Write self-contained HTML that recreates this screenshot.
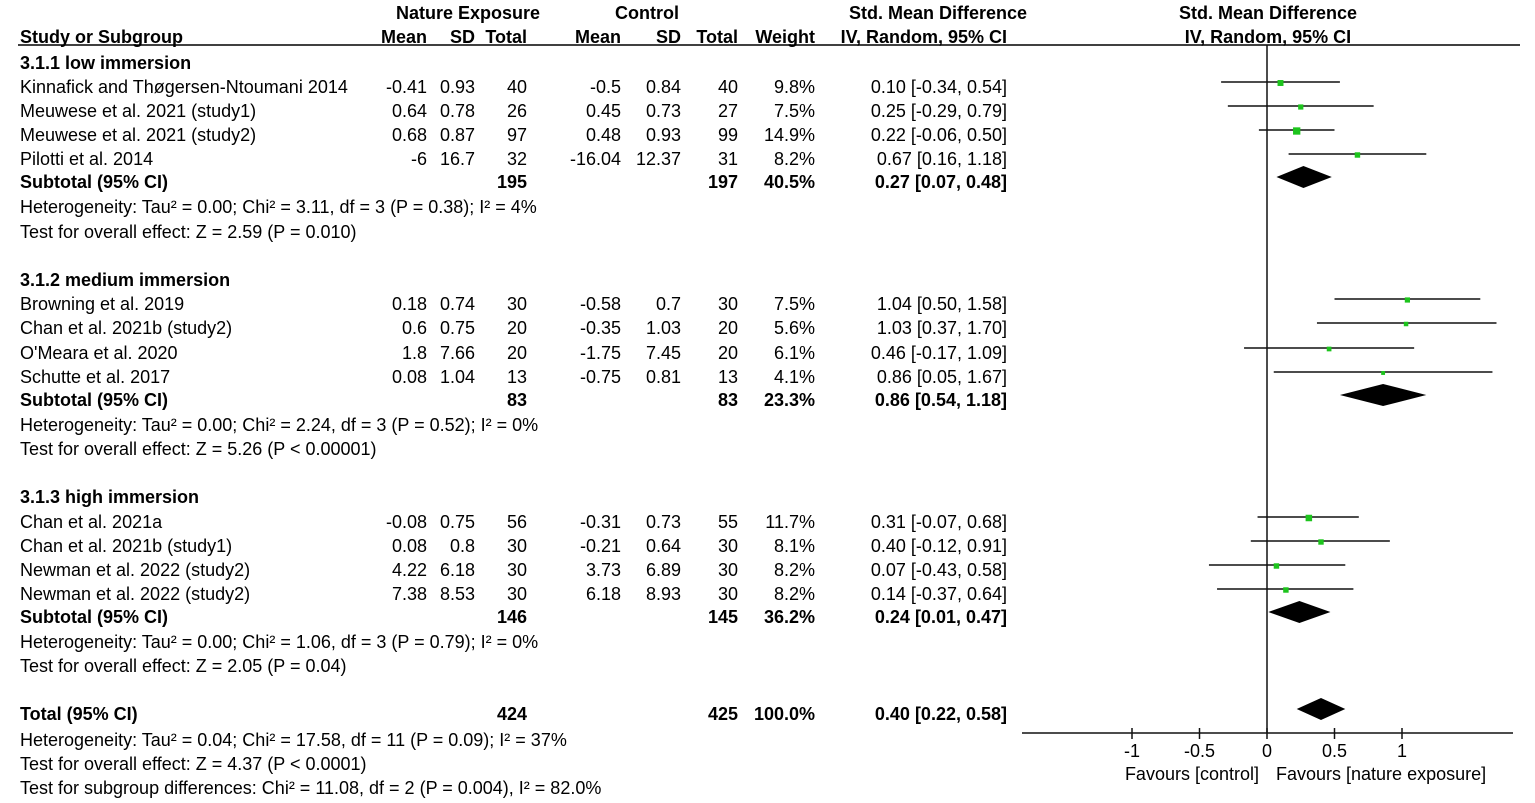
<!DOCTYPE html>
<html><head><meta charset="utf-8"><style>
body{margin:0;background:#fff}
svg{display:block;font-family:"Liberation Sans",Arial,sans-serif;font-size:18px}
.b{font-weight:bold}
</style></head><body>
<svg id="s" width="1535" height="803" viewBox="0 0 1535 803" xmlns="http://www.w3.org/2000/svg">
<g id="hdr" class="b">
<text x="468" y="19" text-anchor="middle">Nature Exposure</text>
<text x="647" y="19" text-anchor="middle">Control</text>
<text x="938" y="19" text-anchor="middle">Std. Mean Difference</text>
<text x="1268" y="19" text-anchor="middle">Std. Mean Difference</text>
<text x="20" y="43">Study or Subgroup</text>
<text x="427" y="43" text-anchor="end">Mean</text>
<text x="475" y="43" text-anchor="end">SD</text>
<text x="527" y="43" text-anchor="end">Total</text>
<text x="621" y="43" text-anchor="end">Mean</text>
<text x="681" y="43" text-anchor="end">SD</text>
<text x="738" y="43" text-anchor="end">Total</text>
<text x="815" y="43" text-anchor="end">Weight</text>
<text x="1007" y="43" text-anchor="end">IV, Random, 95% CI</text>
<text x="1268" y="43" text-anchor="middle">IV, Random, 95% CI</text>
</g>
<line x1="18" y1="45" x2="1520" y2="45" stroke="#000" stroke-width="1.5"/>
<g id="rows"></g>
<g id="plot"></g>
</svg>
<script>
const studyNames=["Kinnafick and Thøgersen-Ntoumani 2014","Meuwese et al. 2021 (study1)","Meuwese et al. 2021 (study2)","Pilotti et al. 2014","Browning et al. 2019","Chan et al. 2021b (study2)","O'Meara et al. 2020","Schutte et al. 2017","Chan et al. 2021a","Chan et al. 2021b (study1)","Newman et al. 2022 (study2)","Newman et al. 2022 (study2)"];
const studyY=[87,111,135,159,304,328,353,377,522,546,570,594];
const nMean=["-0.41","0.64","0.68","-6","0.18","0.6","1.8","0.08","-0.08","0.08","4.22","7.38"];
const nSD=["0.93","0.78","0.87","16.7","0.74","0.75","7.66","1.04","0.75","0.8","6.18","8.53"];
const nTotal=["40","26","97","32","30","20","20","13","56","30","30","30"];
const cMean=["-0.5","0.45","0.48","-16.04","-0.58","-0.35","-1.75","-0.75","-0.31","-0.21","3.73","6.18"];
const cSD=["0.84","0.73","0.93","12.37","0.7","1.03","7.45","0.81","0.73","0.64","6.89","8.93"];
const cTotal=["40","27","99","31","30","20","20","13","55","30","30","30"];
const weights=[9.8,7.5,14.9,8.2,7.5,5.6,6.1,4.1,11.7,8.1,8.2,8.2];
const smd=[0.10,0.25,0.22,0.67,1.04,1.03,0.46,0.86,0.31,0.40,0.07,0.14];
const lo=[-0.34,-0.29,-0.06,0.16,0.50,0.37,-0.17,0.05,-0.07,-0.12,-0.43,-0.37];
const hi=[0.54,0.79,0.50,1.18,1.58,1.70,1.09,1.67,0.68,0.91,0.58,0.64];
const subNames=["Subtotal (95% CI)","Subtotal (95% CI)","Subtotal (95% CI)","Total (95% CI)"];
const subY=[182,400,617,714];
const subNT=["195","83","146","424"];
const subCT=["197","83","145","425"];
const subW=["40.5%","23.3%","36.2%","100.0%"];
const subEst=[0.27,0.86,0.24,0.40];
const subLo=[0.07,0.54,0.01,0.22];
const subHi=[0.48,1.18,0.47,0.58];
const groupHeads=["3.1.1 low immersion","3.1.2 medium immersion","3.1.3 high immersion"];
const groupY=[63,280,497];
const notes=["Heterogeneity: Tau² = 0.00; Chi² = 3.11, df = 3 (P = 0.38); I² = 4%","Test for overall effect: Z = 2.59 (P = 0.010)","Heterogeneity: Tau² = 0.00; Chi² = 2.24, df = 3 (P = 0.52); I² = 0%","Test for overall effect: Z = 5.26 (P < 0.00001)","Heterogeneity: Tau² = 0.00; Chi² = 1.06, df = 3 (P = 0.79); I² = 0%","Test for overall effect: Z = 2.05 (P = 0.04)","Heterogeneity: Tau² = 0.04; Chi² = 17.58, df = 11 (P = 0.09); I² = 37%","Test for overall effect: Z = 4.37 (P < 0.0001)","Test for subgroup differences: Chi² = 11.08, df = 2 (P = 0.004), I² = 82.0%"];
const noteY=[207,232,425,449,642,666,740,764,788];
const ticks=[-1,-0.5,0,0.5,1];
const tickLabels=["-1","-0.5","0","0.5","1"];

const NS="http://www.w3.org/2000/svg";
const X0=1267,PX=135,AXY=733;
const xs=v=>X0+v*PX;
const rows=document.getElementById('rows'),plot=document.getElementById('plot');
function mk(tag,parent,at){const e=document.createElementNS(NS,tag);for(const k in at)e.setAttribute(k,at[k]);parent.appendChild(e);return e;}
function txt(parent,x,y,s,anchor,bold){const t=mk('text',parent,{x:x,y:y});if(anchor)t.setAttribute('text-anchor',anchor);if(bold)t.setAttribute('font-weight','bold');t.textContent=s;return t;}
const cols=[427,475,527,621,681,738,815,1007];
studyNames.forEach((n,i)=>{
 const y=studyY[i]+6;
 const g=mk('g',rows,{});
 
 
 txt(g,20,y,n);
 const vals=[nMean[i],nSD[i],nTotal[i],cMean[i],cSD[i],cTotal[i],weights[i].toFixed(1)+'%',smd[i].toFixed(2)+' ['+lo[i].toFixed(2)+', '+hi[i].toFixed(2)+']'];
 vals.forEach((v,j)=>txt(g,cols[j],y,v,'end'));
 const cy=studyY[i]-5;
 const l=mk('line',plot,{x1:xs(lo[i]),x2:xs(hi[i]),y1:cy,y2:cy,stroke:'#111','stroke-width':1.5});
 
 
 const sz=Math.sqrt(weights[i])*1.9;
 const r=mk('rect',plot,{x:xs(smd[i])-sz/2,y:cy+1-sz/2,width:sz,height:sz,fill:'#1dc41d'});
 
 
});
groupHeads.forEach((h,i)=>{const t=txt(rows,20,groupY[i]+6,h,null,true);
 
 });
subNames.forEach((n,i)=>{
 const y=subY[i]+6;
 const g=mk('g',rows,{'font-weight':'bold'});
 
 
 txt(g,20,y,n);
 txt(g,cols[2],y,subNT[i],'end');txt(g,cols[5],y,subCT[i],'end');txt(g,cols[6],y,subW[i],'end');
 txt(g,cols[7],y,subEst[i].toFixed(2)+' ['+subLo[i].toFixed(2)+', '+subHi[i].toFixed(2)+']','end');
 const cy=subY[i]-5,h=11;
 const d=mk('polygon',plot,{points:`${xs(subLo[i])},${cy} ${xs(subEst[i])},${cy-h} ${xs(subHi[i])},${cy} ${xs(subEst[i])},${cy+h}`,fill:'#000'});
 
 
});
notes.forEach((n,i)=>{const t=txt(rows,20,noteY[i]+6,n);
 
 });
const v=mk('line',plot,{x1:X0,x2:X0,y1:45,y2:AXY,stroke:'#111','stroke-width':1.5});


const ax=mk('line',plot,{x1:1022,x2:1513,y1:AXY,y2:AXY,stroke:'#111','stroke-width':1.5});


ticks.forEach((t,i)=>{
 mk('line',plot,{x1:xs(t),x2:xs(t),y1:AXY-5,y2:AXY+6,stroke:'#111','stroke-width':1.5});
 const l=txt(plot,xs(t),AXY+24,tickLabels[i],'middle');
 
 
});
const f1=txt(plot,1259,AXY+47,'Favours [control]','end');


const f2=txt(plot,1276,AXY+47,'Favours [nature exposure]','start');


</script>
</body></html>
